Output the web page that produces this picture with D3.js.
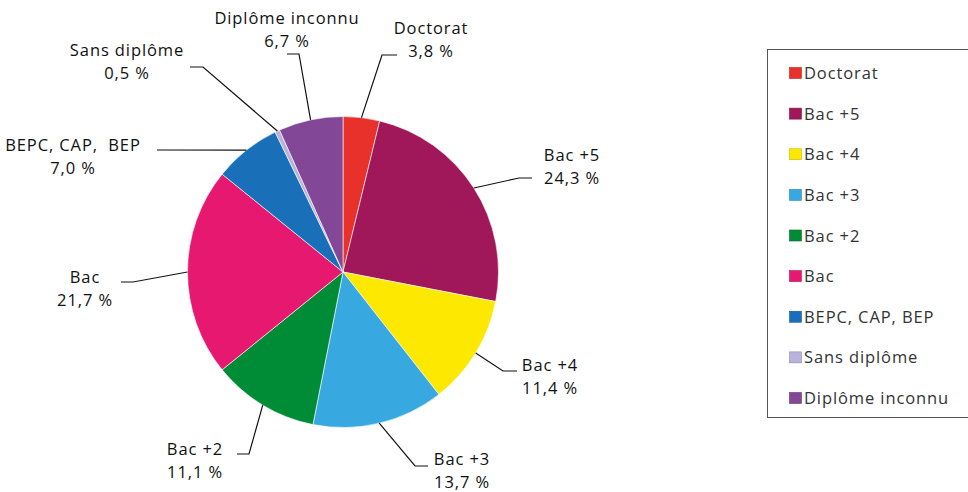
<!DOCTYPE html>
<html>
<head>
<meta charset="utf-8">
<script src="https://cdn.jsdelivr.net/npm/d3@7"></script>
<style>
  html, body { margin: 0; padding: 0; background: #fff; }
  svg { display: block; }
  text { font-family: "Open Sans", "Noto Sans", sans-serif; white-space: pre; }
</style>
</head>
<body>
<svg id="chart" width="968" height="492"></svg>
<script>
// ---- data ----
const categories = ["Doctorat", "Bac +5", "Bac +4", "Bac +3", "Bac +2", "Bac", "BEPC, CAP, BEP", "Sans diplôme", "Diplôme inconnu"];
const values = [3.8, 24.3, 11.4, 13.7, 11.1, 21.7, 7.0, 0.5, 6.7];
const valueLabels = ["3,8 %", "24,3 %", "11,4 %", "13,7 %", "11,1 %", "21,7 %", "7,0 %", "0,5 %", "6,7 %"];
const sliceLabels = ["Doctorat", "Bac +5", "Bac +4", "Bac +3", "Bac +2", "Bac", "BEPC, CAP,  BEP", "Sans diplôme", "Diplôme inconnu"];
const colors = ["#e8312a", "#a0185a", "#fce800", "#37a9e0", "#008c36", "#e6186f", "#1a70b8", "#b9b2da", "#824796"];
const legendStrokes = ["#b82520", "#7a1244", "#c9b800", "#2a88b6", "#006a29", "#b51257", "#14579a", "#8f88b4", "#63356f"];

// ---- layout (label placement) ----
const labelLayout = [
  { tx: 431, ty: 34,  ex: 382, ey: 55,  hx: 397, gap: 23 },
  { tx: 572, ty: 161, ex: 519, ey: 178, hx: 532, gap: 23 },
  { tx: 550, ty: 371, ex: 503, ey: 371, hx: 517, gap: 23 },
  { tx: 462, ty: 465, ex: 415, ey: 466, hx: 428, gap: 23 },
  { tx: 195, ty: 455, ex: 249, ey: 454, hx: 237, gap: 23 },
  { tx: 85,  ty: 283, ex: 133, ey: 282, hx: 121, gap: 23 },
  { tx: 73,  ty: 151, ex: 157, ey: 150, hx: 157, gap: 23 },
  { tx: 127, ty: 56,  ex: 203, ey: 67,  hx: 190, gap: 23 },
  { tx: 287, ty: 24,  ex: 299, ey: 54,  hx: 287, gap: 23 }
];

const svg = d3.select("#chart");
const cx = 343, cy = 272, R = 155.5;

const data = categories.map((c, i) => ({ name: c, value: values[i], i }));
const pie = d3.pie().value(d => d.value).sort(null);
const arcs = pie(data);
const arc = d3.arc().innerRadius(0).outerRadius(R);

const g = svg.append("g").attr("transform", `translate(${cx},${cy})`);
g.selectAll("path.slice")
  .data(arcs)
  .join("path")
  .attr("class", "slice")
  .attr("d", arc)
  .attr("fill", d => colors[d.data.i])
  .attr("stroke", "#ffffff")
  .attr("stroke-width", 0.6);

// leader lines + labels
arcs.forEach(a => {
  const L = labelLayout[a.data.i];
  const mid = (a.startAngle + a.endAngle) / 2;
  const sx = cx + R * Math.sin(mid);
  const sy = cy - R * Math.cos(mid);
  const pts = [[sx, sy], [L.ex, L.ey], [L.hx, L.ey]];
  svg.append("path")
    .attr("d", d3.line()(pts))
    .attr("fill", "none")
    .attr("stroke", "#111")
    .attr("stroke-width", 1.2);
  const t = svg.append("text")
    .attr("x", L.tx).attr("y", L.ty)
    .attr("text-anchor", "middle")
    .attr("font-size", 16.5)
    .attr("letter-spacing", 0.9)
    .attr("fill", "#111");
  t.append("tspan").attr("x", L.tx).attr("y", L.ty).text(sliceLabels[a.data.i]);
  t.append("tspan").attr("x", L.tx).attr("y", L.ty + L.gap).text(valueLabels[a.data.i]);
});

// legend
const lg = svg.append("g");
lg.append("rect")
  .attr("x", 767.5).attr("y", 49.5)
  .attr("width", 210).attr("height", 368)
  .attr("fill", "#fff")
  .attr("stroke", "#555")
  .attr("stroke-width", 1);

const legendY = d3.scalePoint().domain(categories).range([73, 398]);
categories.forEach((c, i) => {
  const y = legendY(c);
  lg.append("rect")
    .attr("x", 789.5).attr("y", y - 5.5)
    .attr("width", 12).attr("height", 11)
    .attr("fill", colors[i])
    .attr("stroke", legendStrokes[i])
    .attr("stroke-width", 0.6);
  lg.append("text")
    .attr("x", 804).attr("y", y + 6)
    .attr("font-size", 16.5)
    .attr("letter-spacing", 0.9)
    .attr("fill", "#333")
    .text(c);
});
</script>
</body>
</html>
